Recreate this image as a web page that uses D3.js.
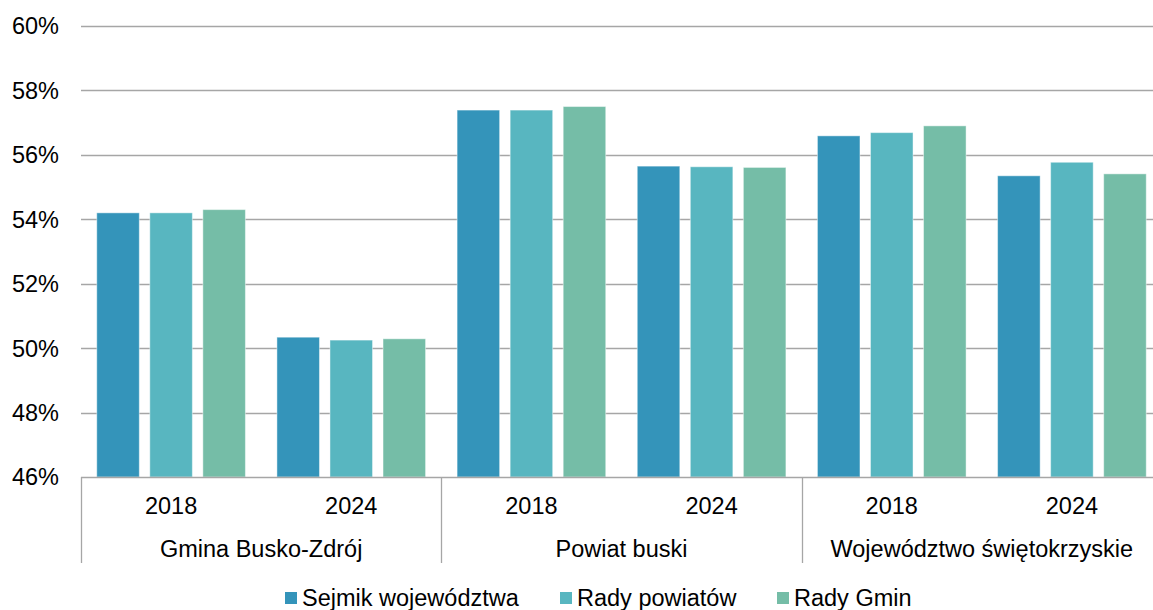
<!DOCTYPE html>
<html>
<head>
<meta charset="utf-8">
<script src="https://cdn.jsdelivr.net/npm/d3@7"></script>
<style>
  body { margin: 0; background: #fff; }
  text { font-family: "Liberation Sans", Arial, sans-serif; fill: #000; }
</style>
</head>
<body>
<div id="chart"></div>
<script>
// data
const regions = ["Gmina Busko-Zdrój", "Powiat buski", "Województwo świętokrzyskie"];
const years = ["2018", "2024"];
const seriesNames = ["Sejmik województwa", "Rady powiatów", "Rady Gmin"];
const sejmik = [54.2, 50.34, 57.39, 55.65, 56.59, 55.35];
const powiaty = [54.2, 50.25, 57.39, 55.63, 56.69, 55.77];
const gminy = [54.3, 50.29, 57.5, 55.61, 56.9, 55.41];
const yTicks = [46, 48, 50, 52, 54, 56, 58, 60];

const colors = ["#3494BA", "#58B6C0", "#75BDA7"];
const fontSize = "23.5px";

// set the dimensions and margins of the graph
const width = 1153, height = 610;
const margin = {top: 26, left: 81, bottom: 133};
const plotRight = 1162; // plot runs a bit past the right edge, as in the picture
const plotBottom = height - margin.bottom;

const svg = d3.select("#chart")
    .append("svg")
    .attr("width", width)
    .attr("height", height);

// build one row per category (region x year)
const cats = [];
regions.forEach(r => years.forEach(yr => cats.push({region: r, year: yr})));
const rows = cats.map((c, i) => ({
    key: c.region + "|" + c.year,
    year: c.year,
    values: [sejmik[i], powiaty[i], gminy[i]]
}));

// scales
const x = d3.scaleBand()
    .domain(rows.map(d => d.key))
    .range([margin.left, plotRight])
    .padding(0);

const xSub = d3.scaleBand()
    .domain(seriesNames)
    .range([0, x.bandwidth()])
    .paddingInner(0.198)
    .paddingOuter(0.297);

const y = d3.scaleLinear()
    .domain([46, 60])
    .range([plotBottom, margin.top]);

// gridlines
svg.append("g")
    .selectAll("line")
    .data(yTicks.slice(1))
    .join("line")
    .attr("x1", margin.left)
    .attr("x2", plotRight)
    .attr("y1", d => Math.round(y(d)) + 0.5)
    .attr("y2", d => Math.round(y(d)) + 0.5)
    .attr("stroke", "#a6a6a6")
    .attr("stroke-width", 1.3);

// y labels
svg.append("g")
    .selectAll("text")
    .data(yTicks)
    .join("text")
    .attr("x", 59)
    .attr("y", d => y(d))
    .attr("dy", "0.36em")
    .attr("text-anchor", "end")
    .style("font-size", fontSize)
    .text(d => d + "%");

// bars
const groups = svg.append("g")
    .selectAll("g")
    .data(rows)
    .join("g")
    .attr("transform", d => `translate(${x(d.key)},0)`);

groups.selectAll("rect")
    .data(d => d.values.map((v, i) => ({name: seriesNames[i], value: v, i: i})))
    .join("rect")
    .attr("x", d => xSub(d.name))
    .attr("width", xSub.bandwidth())
    .attr("y", d => y(d.value))
    .attr("height", d => y(46) - y(d.value))
    .attr("fill", d => colors[d.i])
    .attr("stroke", "#ffffff")
    .attr("stroke-opacity", 0.45)
    .attr("stroke-width", 1);

// category axis: baseline and separators
const axisColor = "#a6a6a6";
svg.append("line")
    .attr("x1", margin.left)
    .attr("x2", plotRight)
    .attr("y1", plotBottom + 0.5)
    .attr("y2", plotBottom + 0.5)
    .attr("stroke", axisColor)
    .attr("stroke-width", 1.3);

const sepX = regions.map((r, i) => x(r + "|" + years[0])).concat([plotRight]);
svg.append("g")
    .selectAll("line")
    .data(sepX)
    .join("line")
    .attr("x1", d => Math.round(d) + 0.5)
    .attr("x2", d => Math.round(d) + 0.5)
    .attr("y1", plotBottom)
    .attr("y2", 563)
    .attr("stroke", axisColor)
    .attr("stroke-width", 1.3);

// year labels
svg.append("g")
    .selectAll("text")
    .data(rows)
    .join("text")
    .attr("x", d => x(d.key) + x.bandwidth() / 2)
    .attr("y", 506)
    .attr("dy", "0.36em")
    .attr("text-anchor", "middle")
    .style("font-size", fontSize)
    .text(d => d.year);

// region labels
svg.append("g")
    .selectAll("text")
    .data(regions)
    .join("text")
    .attr("x", r => x(r + "|" + years[0]) + x.bandwidth())
    .attr("y", 549)
    .attr("dy", "0.36em")
    .attr("text-anchor", "middle")
    .style("font-size", fontSize)
    .text(r => r);

// legend
const legendX = [285, 560, 777];
const legend = svg.append("g")
    .selectAll("g")
    .data(seriesNames)
    .join("g")
    .attr("transform", (d, i) => `translate(${legendX[i]},598)`);

legend.append("rect")
    .attr("x", 0)
    .attr("y", -6)
    .attr("width", 12)
    .attr("height", 12)
    .attr("fill", (d, i) => colors[i]);

legend.append("text")
    .attr("x", 17)
    .attr("y", 0)
    .attr("dy", "0.36em")
    .style("font-size", fontSize)
    .text(d => d);
</script>
</body>
</html>
